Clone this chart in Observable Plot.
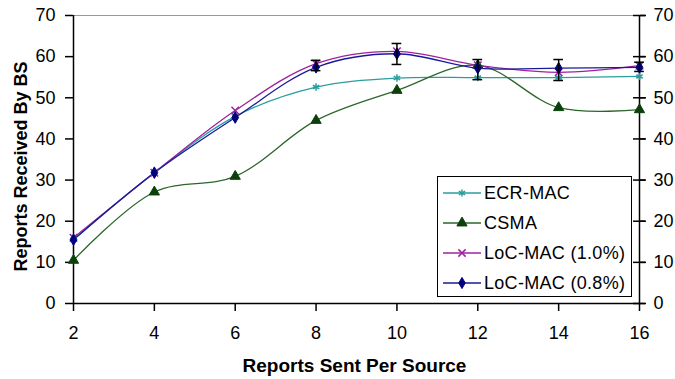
<!DOCTYPE html>
<html>
<head>
<meta charset="utf-8">
<script src="https://cdn.jsdelivr.net/npm/d3@7"></script>
<script src="https://cdn.jsdelivr.net/npm/@observablehq/plot@0.6"></script>
<style>
  html, body { margin: 0; padding: 0; background: #fff; }
  #wrap { position: relative; width: 675px; height: 379px; font-family: "Liberation Sans", Arial, sans-serif; }
  #legend { position: absolute; left: 437px; top: 176px; width: 193px; height: 118px; border: 1.5px solid #000; background: #fff; padding-top: 1px; }
  .row { height: 30px; display: flex; align-items: center; padding-left: 5px; font-size: 18px; letter-spacing: 0.3px; color: #000; }
  .row svg { margin-right: 3px; }
</style>
</head>
<body>
<div id="wrap"></div>
<script>
const xs = [2, 4, 6, 8, 10, 12, 14, 16];
const ecrMac = [15.5, 31.8, 45.5, 52.6, 54.8, 54.9, 54.9, 55.2];
const csma = [10.5, 27.1, 30.9, 44.5, 51.8, 57.9, 47.6, 47.1];
const locMac10 = [16, 31.8, 46.9, 58.3, 61.3, 57.9, 56.2, 57.8];
const locMac08 = [15.5, 31.8, 45.2, 57.4, 60.7, 57.2, 57.2, 57.4];
const errX = [8, 10, 12, 14, 16];
const errLow = [56.6, 58.1, 54.4, 54.2, 56.4];
const errHigh = [59.1, 63.2, 59.3, 59.3, 58.65];
const xTicks = [2, 4, 6, 8, 10, 12, 14, 16];
const yTicks = [0, 10, 20, 30, 40, 50, 60, 70];
const seriesNames = ["ECR-MAC", "CSMA", "LoC-MAC (1.0%)", "LoC-MAC (0.8%)"];
const xLabel = "Reports Sent Per Source";
const yLabel = "Reports Received By BS";

const series = [
  {name: seriesNames[0], values: ecrMac, color: "#2a9e9e", mark: "#2a9e9e", symbol: "asterisk", filled: false},
  {name: seriesNames[1], values: csma, color: "#2b662b", mark: "#0b400b", symbol: "triangle", filled: true},
  {name: seriesNames[2], values: locMac10, color: "#a020a0", mark: "#a020a0", symbol: "times", filled: false},
  {name: seriesNames[3], values: locMac08, color: "#1a1a99", mark: "#000080", symbol: "diamond", filled: true}
];

const err = errX.map((x, i) => ({x, lo: errLow[i], hi: errHigh[i]}));

const marks = [
  Plot.ruleY([70], {stroke: "#999", strokeWidth: 1}),
  Plot.ruleY([0], {stroke: "#000", strokeWidth: 1.5}),
  Plot.ruleX([2], {stroke: "#000", strokeWidth: 1.5}),
  Plot.ruleX([16], {stroke: "#000", strokeWidth: 1.5}),
  Plot.ruleY(yTicks, {x1: 16, x2: 16, insetLeft: -6, insetRight: -6, stroke: "#000", strokeWidth: 1.5}),
  Plot.axisX({ticks: xTicks, tickSize: 8, tickPadding: 15, tickFormat: d => d, label: null, strokeWidth: 1.5}),
  Plot.axisY({anchor: "left", ticks: yTicks, tickSize: 8, tickPadding: 10, label: null, strokeWidth: 1.5}),
  Plot.axisY({anchor: "right", ticks: yTicks, tickSize: 6, tickPadding: 8, label: null, strokeWidth: 1.5})
];

for (const s of series) {
  const data = xs.map((x, i) => ({x, y: s.values[i]}));
  marks.push(Plot.line(data, {x: "x", y: "y", stroke: s.color, strokeWidth: 1.3, curve: "catmull-rom"}));
}
for (const s of series) {
  const data = xs.map((x, i) => ({x, y: s.values[i]}));
  marks.push(Plot.dot(data, {
    x: "x", y: "y", symbol: s.symbol, r: s.symbol === "triangle" ? 3.8 : 3.5,
    fill: s.filled ? s.mark : "none", stroke: s.mark, strokeWidth: s.filled ? 1 : 1.5
  }));
}
marks.push(
  Plot.ruleX(err, {x: "x", y1: "lo", y2: "hi", stroke: "#000", strokeWidth: 1.5}),
  Plot.ruleY(err, {y: "lo", x1: d => d.x - 0.12, x2: d => d.x + 0.12, stroke: "#000", strokeWidth: 1.5}),
  Plot.ruleY(err, {y: "hi", x1: d => d.x - 0.12, x2: d => d.x + 0.12, stroke: "#000", strokeWidth: 1.5}),
  Plot.text([xLabel], {frameAnchor: "bottom", dx: -2, dy: 62, lineAnchor: "middle", textAnchor: "middle", fontSize: 19, fontWeight: "bold", text: d => d, fill: "#000"}),
  Plot.text([yLabel], {frameAnchor: "left", dx: -52, dy: 7, rotate: -90, lineAnchor: "middle", textAnchor: "middle", fontSize: 18, fontWeight: "bold", text: d => d, fill: "#000"})
);

const chart = Plot.plot({
  width: 675, height: 379,
  marginLeft: 73, marginRight: 36, marginTop: 15, marginBottom: 76,
  x: {domain: [2, 16]},
  y: {domain: [0, 70]},
  style: {fontFamily: "Liberation Sans, Arial, sans-serif", fontSize: "18px", color: "#000", background: "#fff", overflow: "visible"},
  marks
});
const wrap = document.getElementById("wrap");
wrap.appendChild(chart);

// Legend
const legend = document.createElement("div");
legend.id = "legend";
const symMap = {asterisk: d3.symbolAsterisk, triangle: d3.symbolTriangle, times: d3.symbolTimes, diamond: d3.symbolDiamond};
for (const s of series) {
  const row = document.createElement("div");
  row.className = "row";
  const sw = d3.create("svg").attr("width", 38).attr("height", 14);
  sw.append("line").attr("x1", 0).attr("x2", 38).attr("y1", 7).attr("y2", 7).attr("stroke", s.color).attr("stroke-width", 1.5);
  sw.append("path").attr("transform", "translate(19,7)")
    .attr("d", d3.symbol(symMap[s.symbol], s.symbol === "triangle" ? 45 : 36)())
    .attr("fill", s.filled ? s.mark : "none").attr("stroke", s.mark).attr("stroke-width", s.filled ? 1 : 1.5);
  row.appendChild(sw.node());
  const t = document.createElement("span");
  t.textContent = s.name;
  row.appendChild(t);
  legend.appendChild(row);
}
wrap.appendChild(legend);
</script>
</body>
</html>
